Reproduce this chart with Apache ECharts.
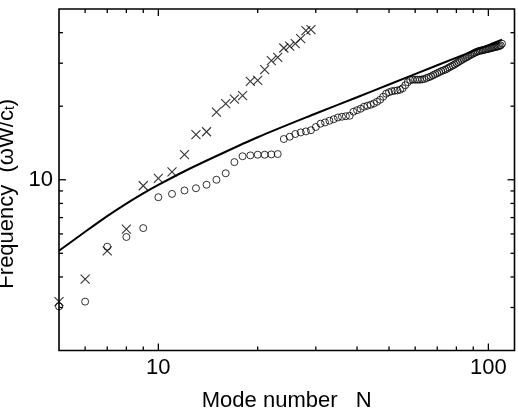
<!DOCTYPE html>
<html><head><meta charset="utf-8">
<script src="https://cdn.jsdelivr.net/npm/echarts@6/dist/echarts.min.js"></script>
<style>html,body{margin:0;padding:0;background:#fff}#c{width:518px;height:418px}</style>
</head><body><div id="c"></div>
<script>
// ---- data ----
const crossN = [5,6,7,8,9,10,11,12,13,14,15,16,17,18,19,20,21,22,23,24,25,26,27,28,29];
const crossFreq = [3.17,3.92,5.12,6.28,9.45,10.14,10.78,12.66,15.29,15.72,18.90,20.48,21.36,22.08,25.26,25.50,28.21,30.72,31.69,34.62,35.22,36.06,37.80,40.75,41.14];

const circleN = [5,6,7,8,9,10,11,12,13,14,15,16,17,18,19,20,21,22,23,24,25,26,27,28,29,30,
  31,32,33,34,35,36,37,38,39,40,41,42,43,44,45,46,47,48,49,50,51,52,53,54,55,56,57,58,59,60,
  61,62,63,64,65,66,67,68,69,70,71,72,73,74,75,76,77,78,79,80,81,82,83,84,85,86,87,88,89,90,
  91,92,93,94,95,96,97,98,99,100,101,102,103,104,105,106,107,108,109,110];
const circleFreq = [3.03,3.17,5.32,5.83,6.34,8.48,8.75,9.04,9.23,9.54,10.0,10.63,11.81,12.48,12.58,12.66,12.66,12.70,12.74,14.68,15.00,15.39,15.62,15.77,15.95,16.44,
  16.96,17.16,17.44,17.69,17.99,18.11,18.20,18.28,18.99,19.26,19.53,19.90,20.09,20.28,20.53,20.86,21.26,21.87,22.50,22.82,23.03,23.14,23.21,23.36,23.70,24.38,25.08,25.60,25.68,25.68,
  25.68,25.68,25.75,25.85,26.09,26.29,26.49,26.79,27.04,27.30,27.56,27.82,28.03,28.22,28.48,28.81,29.08,29.36,29.63,29.99,30.28,30.62,30.91,31.21,31.50,31.74,32.04,32.34,32.59,32.86,
  33.12,33.34,33.53,33.69,33.81,33.91,34.00,34.13,34.23,34.33,34.46,34.59,34.72,34.82,34.95,35.05,35.15,35.28,35.48,36.06];

const curveN = [5,6,7,8,9,10,12,15,20,30,40,50,70,100,110];
const curveFreq = [5.119,6.124,7.100,7.990,8.796,9.521,10.834,12.506,14.93,18.67,21.77,24.54,29.41,35.58,37.44];

const xLabelValues = [10, 100];
const yLabelValues = [10];
const xMajorTicks = [10, 100];
const xMinorTicks = [6,7,8,9,20,30,40,50,60,70,80,90];
const yMajorTicks = [10];
const yMinorTicks = [3,4,5,6,7,8,9,20,30,40];

// ---- axis ranges ----
const X_MIN = 5, X_MAX = 120, Y_MIN = 2, Y_MAX = 50;
const FONT = 'Liberation Sans, Arial, sans-serif';

function tickSeries(values, dim, len) {
  return {
    type: 'custom', silent: true, clip: false, z: 10,
    data: values.map(v => dim === 'x' ? [v, Y_MIN] : [X_MIN, v]),
    renderItem(params, api) {
      const st = {stroke: '#000', lineWidth: 1.3, fill: null};
      if (dim === 'x') {
        const v = api.value(0);
        const b = api.coord([v, Y_MIN]), t = api.coord([v, Y_MAX]);
        return {type: 'group', children: [
          {type: 'line', shape: {x1: b[0], y1: b[1], x2: b[0], y2: b[1] - len}, style: st},
          {type: 'line', shape: {x1: t[0], y1: t[1], x2: t[0], y2: t[1] + len}, style: st}
        ]};
      } else {
        const v = api.value(1);
        const l = api.coord([X_MIN, v]), r = api.coord([X_MAX, v]);
        return {type: 'group', children: [
          {type: 'line', shape: {x1: l[0], y1: l[1], x2: l[0] + len, y2: l[1]}, style: st},
          {type: 'line', shape: {x1: r[0], y1: r[1], x2: r[0] - len, y2: r[1]}, style: st}
        ]};
      }
    }
  };
}

const chart = echarts.init(document.getElementById('c'), null, {renderer: 'canvas'});
chart.setOption({
  animation: false,
  backgroundColor: '#fff',
  grid: {left: 59, right: 3.5, top: 9, bottom: 67.5, containLabel: false, outerBoundsMode: 'none',
    show: true, borderColor: '#000', borderWidth: 1.6, backgroundColor: 'transparent'},
  xAxis: {
    type: 'log', logBase: 10, min: X_MIN, max: X_MAX,
    name: 'Mode number   N', nameLocation: 'middle', nameGap: 39,
    nameTextStyle: {fontSize: 22, fontFamily: FONT, color: '#000'},
    axisLine: {show: false}, axisTick: {show: false}, splitLine: {show: false}, minorTick: {show: false},
    axisLabel: {customValues: xLabelValues, formatter: v => String(Math.round(v)), fontSize: 22, fontFamily: FONT, color: '#000', margin: 6}
  },
  yAxis: {
    type: 'log', logBase: 10, min: Y_MIN, max: Y_MAX,
    name: '{a|Frequency  (ωW/c}{s|t}{a|)}', nameLocation: 'middle', nameGap: 38, nameRotate: 90,
    nameTextStyle: {padding: [0, 28, 0, 0], rich: {
      a: {fontSize: 22, fontFamily: FONT, color: '#000'},
      s: {fontSize: 14, fontFamily: FONT, color: '#000', verticalAlign: 'bottom'}
    }},
    axisLine: {show: false}, axisTick: {show: false}, splitLine: {show: false}, minorTick: {show: false},
    axisLabel: {customValues: yLabelValues, formatter: v => String(Math.round(v)), fontSize: 22, fontFamily: FONT, color: '#000', margin: 6}
  },
  series: [
    {
      type: 'line', data: curveN.map((n, i) => [n, curveFreq[i]]), smooth: 0.3,
      showSymbol: false, lineStyle: {color: '#000', width: 2}, z: 3
    },
    {
      type: 'scatter', data: circleN.map((n, i) => [n, circleFreq[i]]), symbol: 'circle', symbolSize: 7,
      itemStyle: {color: 'transparent', borderColor: '#000', borderWidth: 1}, z: 4
    },
    {
      type: 'scatter', data: crossN.map((n, i) => [n, crossFreq[i]]), symbol: 'path://M0,0L10,10M10,0L0,10', symbolSize: 9,
      itemStyle: {color: 'transparent', borderColor: '#000', borderWidth: 1.1}, z: 4
    },
    tickSeries(xMajorTicks, 'x', 7),
    tickSeries(xMinorTicks, 'x', 4),
    tickSeries(yMajorTicks, 'y', 7),
    tickSeries(yMinorTicks, 'y', 4)
  ]
});
</script></body></html>
